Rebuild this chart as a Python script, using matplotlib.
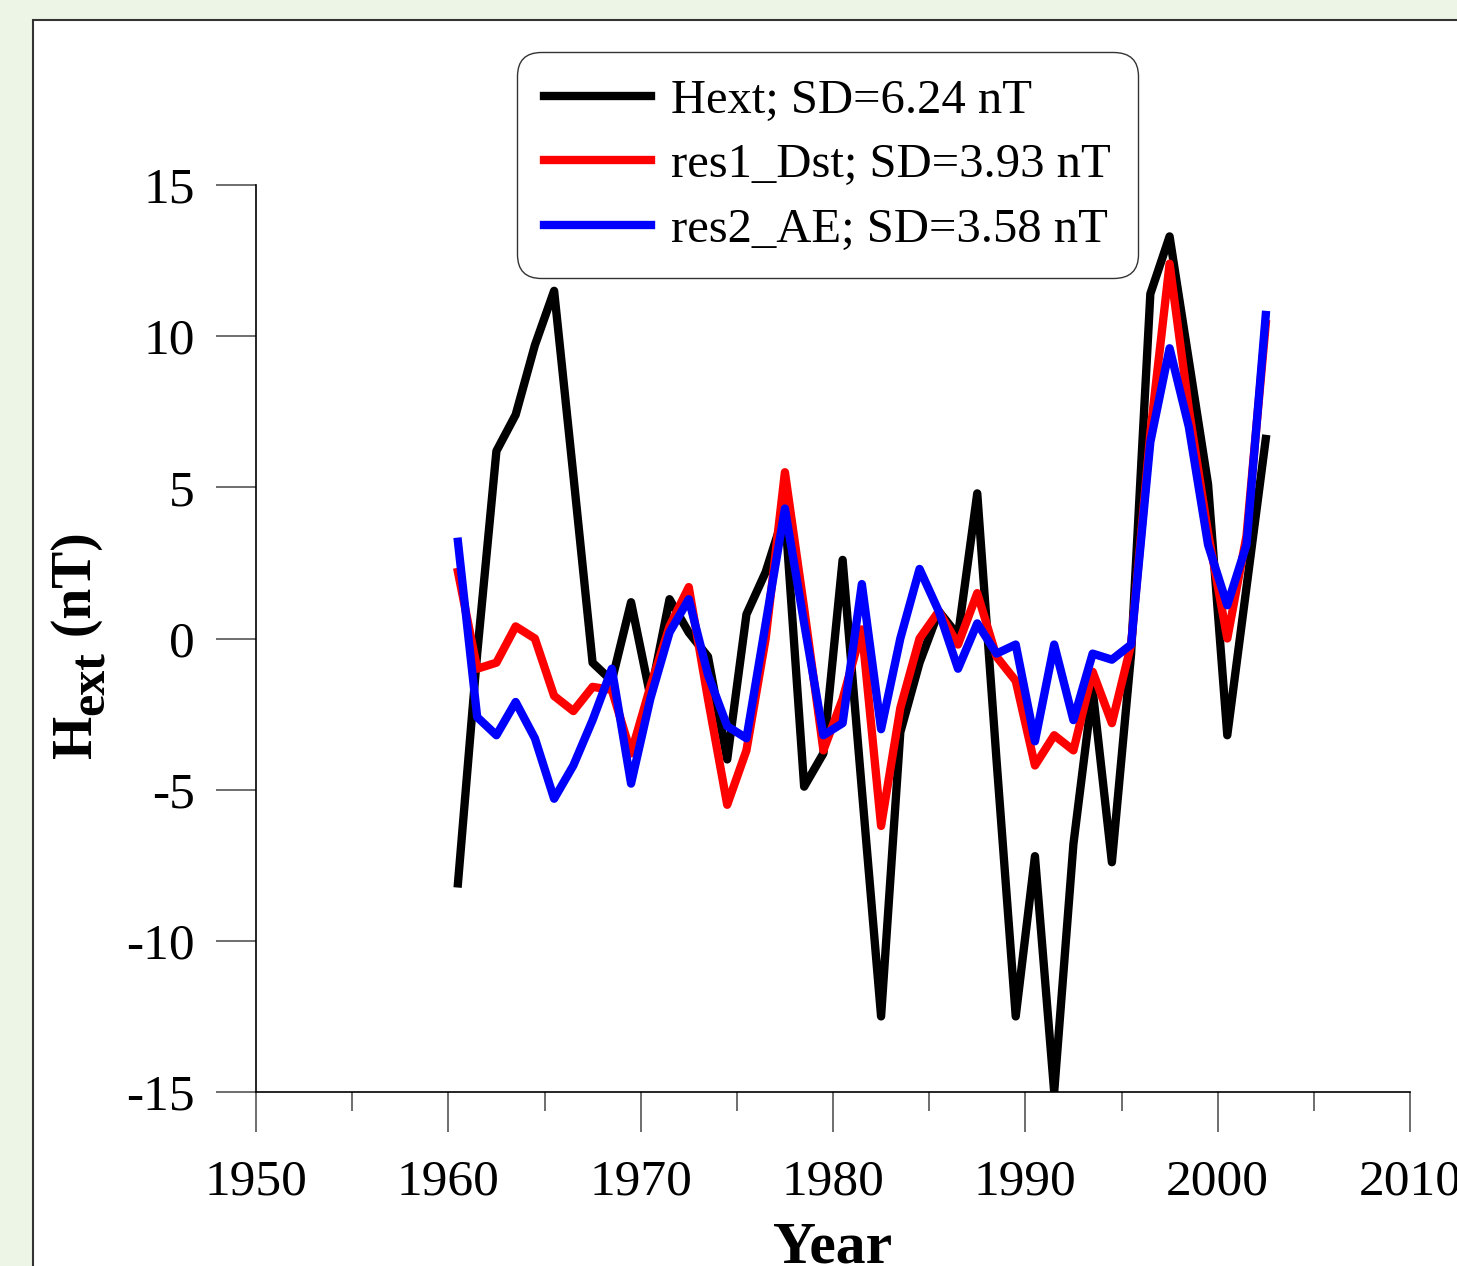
import numpy as np
import matplotlib
matplotlib.use('Agg')
import matplotlib.pyplot as plt
from matplotlib.patches import Rectangle

plt.rcParams['font.family'] = ['Liberation Serif', 'DejaVu Serif']
plt.rcParams['axes.unicode_minus'] = False

# yearly values, plotted at mid-year
years = np.arange(1960, 2003) + 0.5

hext = [-8.1, -0.5, 6.2, 7.4, 9.7, 11.5, 5.4, -0.8, -1.4, 1.2,
        -1.9, 1.3, 0.2, -0.6, -4.0, 0.8, 2.2, 4.2, -4.9, -3.8,
        2.6, -5.0, -12.5, -3.1, -0.8, 0.9, 0.1, 4.8, -4.0, -12.5,
        -7.2, -15.0, -6.8, -1.7, -7.4, -0.5, 11.4, 13.3, 9.2, 5.1,
        -3.2, 1.7, 6.6]

res1_dst = [2.2, -1.0, -0.8, 0.4, 0.0, -1.9, -2.4, -1.6, -1.7, -3.8,
            -1.6, 0.4, 1.7, -2.0, -5.5, -3.7, 0.0, 5.5, 1.0, -3.7,
            -2.0, 0.3, -6.2, -2.3, 0.0, 0.9, -0.2, 1.5, -0.6, -1.4,
            -4.2, -3.2, -3.7, -1.1, -2.8, -0.2, 6.8, 12.4, 7.6, 3.5,
            0.0, 3.4, 10.4]

res2_ae = [3.2, -2.6, -3.2, -2.1, -3.3, -5.3, -4.2, -2.7, -1.0, -4.8,
           -2.0, 0.2, 1.3, -1.2, -2.9, -3.3, 0.5, 4.3, 0.5, -3.2,
           -2.8, 1.8, -3.0, 0.0, 2.3, 0.9, -1.0, 0.5, -0.5, -0.2,
           -3.4, -0.2, -2.7, -0.5, -0.7, -0.2, 6.5, 9.6, 7.0, 3.1,
           1.1, 3.1, 10.7]

labels = ['Hext; SD=6.24 nT', 'res1_Dst; SD=3.93 nT', 'res2_AE; SD=3.58 nT']

W, H = 1457, 1266
fig = plt.figure(figsize=(W / 100, H / 100), dpi=100, facecolor='#edf5e6')

# white panel with a thin border, behind everything else
panel = Rectangle((33 / W, -0.2), 1.2, 1.2 - 20 / H,
                  transform=fig.transFigure, facecolor='white',
                  edgecolor='#333333', linewidth=1.5, zorder=-10)
fig.add_artist(panel)

ax = fig.add_axes([256 / W, 1 - 1092 / H, 1154 / W, 907 / H])
ax.set_facecolor('none')

ax.plot(years, hext, color='black', lw=6, label=labels[0])
ax.plot(years, res1_dst, color='red', lw=6, label=labels[1])
ax.plot(years, res2_ae, color='blue', lw=6, label=labels[2])

ax.set_xlim(1950, 2010)
ax.set_ylim(-15, 15)
ax.set_xticks(np.arange(1950, 2011, 10))
ax.set_xticks(np.arange(1955, 2010, 10), minor=True)
ax.set_yticks(np.arange(-15, 16, 5))

for s in ['top', 'right']:
    ax.spines[s].set_visible(False)
for s in ['left', 'bottom']:
    ax.spines[s].set_linewidth(1.2)

ax.tick_params(axis='both', which='major', length=29, width=1.2,
               color='#555555', labelsize=37)
ax.tick_params(axis='x', which='minor', length=14, width=1.2, color='#555555')
ax.tick_params(axis='x', which='major', pad=19)
ax.tick_params(axis='y', which='major', pad=15)

ax.set_xlabel('Year', fontsize=43, fontweight='bold', labelpad=12)

# y label: H with a large lowered "ext", then (nT), all rotated
renderer = fig.canvas.get_renderer()
y0 = 758
parts = [('H', 40, 91), ('ext', 36, 104), (' (nT)', 40, 91)]
for txt, size, xb in parts:
    t = fig.text(xb / W, 1 - y0 / H, txt, fontsize=size, fontweight='bold',
                 rotation=90, rotation_mode='anchor', ha='left', va='baseline')
    y0 -= t.get_window_extent(renderer).height

leg = ax.legend(loc='upper left', bbox_to_anchor=(517 / W, 1 - 52 / H),
                bbox_transform=fig.transFigure, fontsize=35, frameon=True,
                handlelength=2.2, handletextpad=0.42,
                labelspacing=0.42, borderpad=0.55, borderaxespad=0)
frame = leg.get_frame()
frame.set_boxstyle('round', pad=0, rounding_size=0.5)
frame.set_edgecolor('#333333')
frame.set_linewidth(1.0)
frame.set_alpha(1)
for line in leg.get_lines():
    line.set_linewidth(6)

fig.savefig('out.png', dpi=100, facecolor=fig.get_facecolor())
